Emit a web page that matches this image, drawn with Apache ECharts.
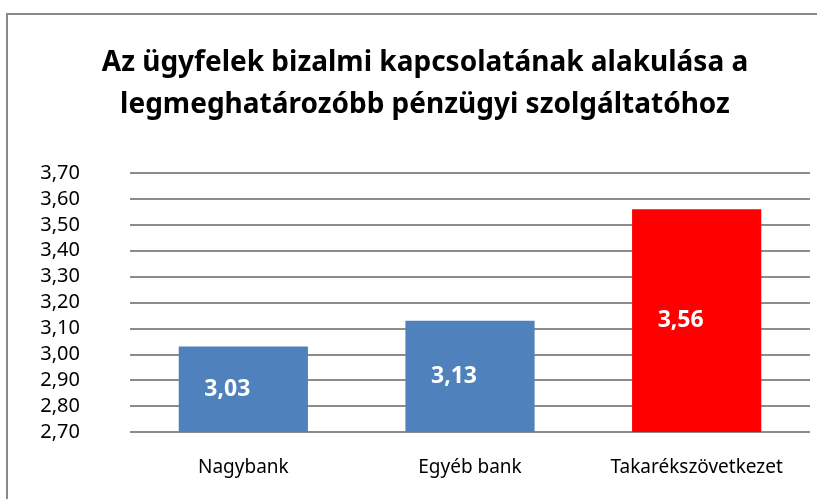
<!DOCTYPE html>
<html>
<head>
<meta charset="utf-8">
<script src="https://cdn.jsdelivr.net/npm/echarts@6/dist/echarts.min.js"></script>
<style>
    html, body { margin: 0; padding: 0; background: #fff; }
    #chart { width: 817px; height: 499px; }
</style>
</head>
<body>
<div id="chart"></div>
<script type="text/javascript">
    // adatok
    var categories = ['Nagybank', 'Egyéb bank', 'Takarékszövetkezet'];
    var values = [3.03, 3.13, 3.56];
    var barColors = ['#4F81BD', '#4F81BD', '#FF0000'];
    var titleLines = ['Az ügyfelek bizalmi kapcsolatának alakulása a', 'legmeghatározóbb pénzügyi szolgáltatóhoz'];

    var myChart = echarts.init(document.getElementById('chart'));

    var seriesData = [];
    for (var i = 0; i < values.length; i++) {
        seriesData.push({ value: values[i], itemStyle: { color: barColors[i] } });
    }

    var option = {
        backgroundColor: '#fff',
        animation: false,
        title: {
            text: titleLines.join('\n'),
            left: 420,
            textAlign: 'center',
            top: 37,
            textStyle: {
                fontFamily: 'Noto Sans',
                fontWeight: 'bold',
                fontSize: 28,
                lineHeight: 42,
                color: '#000'
            }
        },
        graphic: [{
            type: 'rect',
            shape: { x: 7, y: 14, width: 820, height: 500 },
            style: { fill: 'none', stroke: '#898989', lineWidth: 2 },
            silent: true
        }],
        grid: { left: 130, right: 7, top: 173, bottom: 67 },
        xAxis: {
            type: 'category',
            data: categories,
            axisLine: { show: false },
            axisTick: { show: false },
            axisLabel: {
                margin: 26,
                fontFamily: 'Noto Sans',
                fontSize: 19,
                color: '#000'
            }
        },
        yAxis: {
            type: 'value',
            min: 2.7,
            max: 3.7,
            interval: 0.1,
            axisLine: { show: false },
            axisTick: { show: false },
            axisLabel: {
                margin: 50,
                fontFamily: 'Noto Sans',
                fontSize: 20,
                color: '#000',
                formatter: function (v) { return v.toFixed(2).replace('.', ','); }
            },
            splitLine: { lineStyle: { color: '#8c8c8c', width: 2 } }
        },
        series: [{
            type: 'bar',
            data: seriesData,
            barWidth: '57%',
            label: {
                show: true,
                position: 'inside',
                offset: [-16, 0],
                fontFamily: 'Noto Sans',
                fontWeight: 'bold',
                fontSize: 23,
                color: '#fff',
                formatter: function (p) { return p.value.toFixed(2).replace('.', ','); }
            }
        }]
    };
    myChart.setOption(option);
</script>
</body>
</html>
